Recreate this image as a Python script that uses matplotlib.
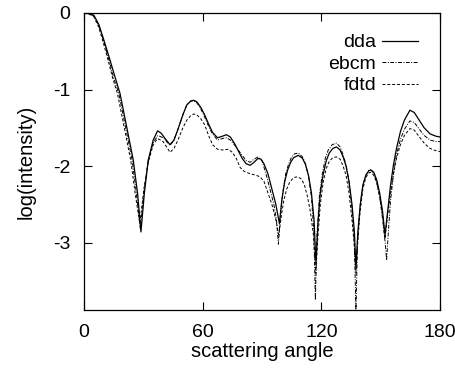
import matplotlib
matplotlib.use("Agg")
import matplotlib.pyplot as plt

plt.rcParams['font.family'] = ['Liberation Sans', 'DejaVu Sans']

dda_x = [0, 3, 5, 7.5, 10, 13.1, 15.5, 18.2, 21.6, 24.9, 27.1, 28.8, 30.5, 32.5, 35, 37.2, 39, 41, 43.5, 45.5, 47.5, 50, 52, 54, 55.5, 57, 59, 61, 63, 65, 67.5, 70, 72, 74, 76, 78, 80, 82, 84, 86, 88, 89.5, 91, 93, 95, 97, 98.8, 100, 101.5, 103, 104.5, 106, 108.4, 110.5, 112, 113.5, 115, 116.3, 117.3, 118.3, 119.5, 121, 122.5, 124, 125.8, 127.7, 129.5, 131, 132.5, 134, 135.5, 136.7, 137.5, 138.5, 139.7, 141, 142.5, 144, 145, 146.5, 148, 149.5, 151, 152.2, 153.5, 155, 156.5, 158, 160, 162, 164.8, 167, 169, 172, 175, 178, 180]
dda_y = [0, -0.01, -0.03, -0.15, -0.35, -0.61, -0.82, -1.05, -1.49, -1.92, -2.36, -2.86, -2.36, -1.92, -1.66, -1.54, -1.57, -1.64, -1.72, -1.66, -1.52, -1.33, -1.2, -1.15, -1.14, -1.16, -1.23, -1.33, -1.45, -1.56, -1.63, -1.61, -1.59, -1.62, -1.7, -1.8, -1.9, -1.97, -1.99, -1.95, -1.9, -1.91, -1.97, -2.1, -2.3, -2.5, -2.75, -2.45, -2.2, -2.05, -1.95, -1.89, -1.86, -1.9, -1.98, -2.12, -2.35, -2.7, -3.27, -2.75, -2.35, -2.1, -1.93, -1.83, -1.77, -1.75, -1.79, -1.88, -2.0, -2.2, -2.5, -2.85, -3.32, -2.85, -2.5, -2.25, -2.12, -2.06, -2.05, -2.08, -2.18, -2.35, -2.6, -2.9, -2.6, -2.25, -1.98, -1.77, -1.55, -1.4, -1.27, -1.3, -1.38, -1.5, -1.58, -1.61, -1.62]

ebcm_x = [0, 3, 5, 7.5, 10, 12.5, 15, 17.6, 21.0, 24.3, 26.5, 28.5, 30.3, 32.5, 35, 37.4, 40, 43.5, 45.5, 47.5, 50, 52, 54, 55.5, 57, 59, 61, 63, 65, 67.5, 70, 72, 74, 76, 78, 80, 82, 84, 86, 88, 90, 92, 94, 96, 97.3, 98.3, 99.3, 100.5, 102, 103.5, 105, 106.5, 108.4, 110.5, 112, 113.5, 115, 116.2, 117, 117.8, 119, 120.5, 122, 123.5, 125.5, 127.7, 129.5, 131, 132.5, 134, 135.5, 136.7, 137.5, 138.3, 139.5, 141, 142.5, 144, 145, 146.5, 148, 149.5, 151, 152.3, 153, 153.8, 155, 156.5, 158, 160, 162, 164.8, 167, 169, 172, 175, 178, 180]
ebcm_y = [0, -0.01, -0.04, -0.16, -0.37, -0.6, -0.85, -1.05, -1.49, -1.92, -2.36, -2.82, -2.33, -1.93, -1.69, -1.6, -1.63, -1.73, -1.66, -1.52, -1.33, -1.2, -1.15, -1.15, -1.17, -1.25, -1.36, -1.48, -1.58, -1.66, -1.64, -1.63, -1.66, -1.72, -1.79, -1.86, -1.93, -1.95, -1.91, -1.88, -1.93, -2.1, -2.3, -2.5, -2.7, -3.02, -2.65, -2.35, -2.1, -1.97, -1.88, -1.84, -1.83, -1.88, -1.97, -2.13, -2.4, -2.85, -3.75, -2.9, -2.4, -2.1, -1.9, -1.79, -1.72, -1.7, -1.75, -1.85, -1.98, -2.2, -2.55, -3.0, -3.88, -3.0, -2.55, -2.25, -2.12, -2.06, -2.05, -2.09, -2.2, -2.4, -2.7, -3.0, -3.23, -2.9, -2.45, -2.1, -1.85, -1.65, -1.52, -1.41, -1.43, -1.5, -1.6, -1.66, -1.68, -1.68]

fdtd_x = [0, 3, 5, 7.5, 10, 12, 14.5, 16.9, 20.3, 23.6, 25.9, 28.2, 30.3, 32.5, 35, 37.2, 40, 43.5, 45.5, 47.5, 50, 52, 54, 55.5, 57, 59, 61, 63, 65, 67.5, 70, 73, 75, 77, 79, 81, 84, 87, 89, 91, 93, 95, 97, 98.5, 99.8, 101, 102.5, 104, 106, 108, 110, 111.5, 113, 114.5, 116, 117.2, 118.2, 119.5, 121, 122.5, 124, 125.8, 127.7, 129.5, 131, 132.5, 134, 135.5, 136.7, 137.5, 138.4, 139.6, 141, 142.5, 144, 145, 146.5, 148, 149.5, 151, 152.2, 153.5, 155, 156.5, 158, 160, 162, 164.8, 167, 169, 172, 175, 178, 180]
fdtd_y = [0, -0.02, -0.05, -0.19, -0.41, -0.6, -0.85, -1.05, -1.49, -1.92, -2.36, -2.75, -2.3, -1.95, -1.72, -1.64, -1.68, -1.82, -1.77, -1.66, -1.5, -1.4, -1.34, -1.32, -1.33, -1.38, -1.46, -1.6, -1.72, -1.78, -1.79, -1.78, -1.82, -1.9, -2.02, -2.07, -2.1, -2.12, -2.14, -2.2, -2.35, -2.5, -2.7, -2.9, -2.65, -2.45, -2.3, -2.21, -2.15, -2.14, -2.17, -2.25, -2.4, -2.6, -2.9, -3.4, -2.95, -2.5, -2.2, -2.03, -1.94, -1.89, -1.88, -1.91, -2.0, -2.12, -2.35, -2.7, -3.05, -3.4, -3.0, -2.6, -2.3, -2.15, -2.09, -2.08, -2.12, -2.22, -2.4, -2.65, -2.95, -2.65, -2.35, -2.1, -1.9, -1.72, -1.6, -1.51, -1.53, -1.6, -1.7, -1.77, -1.8, -1.81]

x_ticks = [0, 60, 120, 180]
y_ticks = [0, -1, -2, -3]

fig = plt.figure(figsize=(4.55, 3.70), dpi=100)
ax = fig.add_axes([0.1846, 0.1622, 0.7824, 0.8027])

ax.plot(dda_x, dda_y, color='black', lw=0.9, linestyle='-', label='dda')
ax.plot(ebcm_x, ebcm_y, color='black', lw=0.7, linestyle=(0, (4, 1.5, 1, 1.5)), label='ebcm')
ax.plot(fdtd_x, fdtd_y, color='black', lw=0.7, linestyle=(0, (3, 2)), label='fdtd')

ax.set_xlim(0, 180)
ax.set_ylim(-3.88, 0)
ax.set_xticks(x_ticks)
ax.set_yticks(y_ticks)
ax.set_yticklabels([str(v) for v in y_ticks])
ax.tick_params(direction='in', length=6, width=0.8, top=True, right=True, labelsize=14)
ax.tick_params(axis='x', pad=10)
ax.tick_params(axis='y', pad=10)
for s in ax.spines.values():
    s.set_linewidth(0.9)

ax.set_xlabel('scattering angle', fontsize=14.5, labelpad=1)
ax.set_ylabel('log(intensity)', fontsize=14.5, labelpad=12)

leg = ax.legend(loc='upper right', bbox_to_anchor=(0.938, 0.93), frameon=False,
                markerfirst=False, fontsize=14, handlelength=1.85, handletextpad=0.3,
                labelspacing=0.2, borderaxespad=0.0, borderpad=0.0)
for t in leg.get_texts():
    t.set_ha('right')

fig.savefig('out.png', dpi=100)
